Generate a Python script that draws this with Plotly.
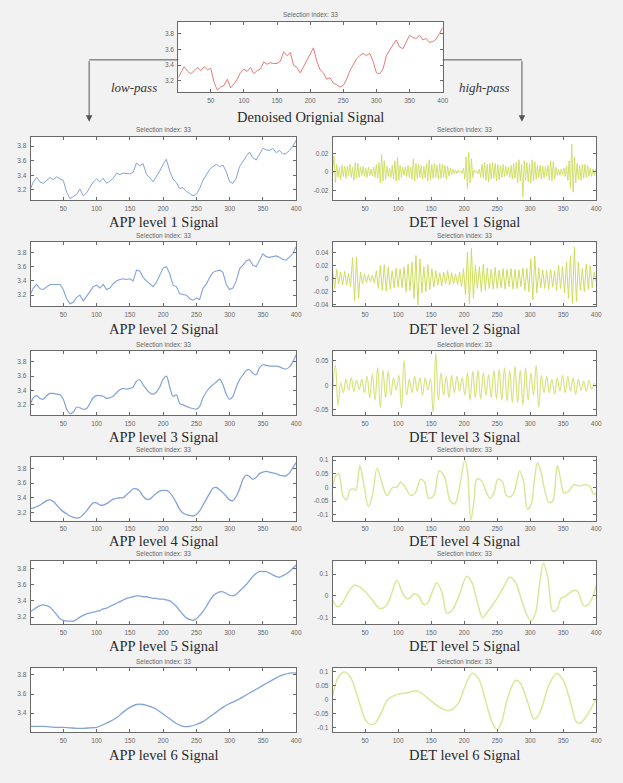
import plotly.graph_objects as go

W, H = 623, 783

# ---------------- data ----------------
X5 = [1] + list(range(5, 401, 5))
X10 = [1] + list(range(10, 401, 10))
X2 = list(range(1, 400, 2))
X3 = list(range(1, 401, 3))
X4 = list(range(1, 400, 4))

ORIG = [3.24, 3.30, 3.38, 3.32, 3.29, 3.33, 3.37, 3.33, 3.38, 3.34,
        3.36, 3.18, 3.08, 3.12, 3.14, 3.22, 3.11, 3.16, 3.22, 3.31,
        3.35, 3.32, 3.37, 3.29, 3.33, 3.35, 3.44, 3.41, 3.43, 3.42,
        3.42, 3.45, 3.57, 3.52, 3.56, 3.40, 3.37, 3.30, 3.38, 3.46,
        3.55, 3.62, 3.45, 3.34, 3.30, 3.22, 3.24, 3.17, 3.15, 3.12,
        3.14, 3.22, 3.33, 3.40, 3.48, 3.52, 3.55, 3.52, 3.55, 3.45,
        3.30, 3.29, 3.35, 3.52, 3.60, 3.66, 3.72, 3.63, 3.61, 3.70,
        3.78, 3.75, 3.74, 3.78, 3.72, 3.74, 3.69, 3.70, 3.73, 3.80,
        3.88]

APP1 = [3.22, 3.31, 3.37, 3.31, 3.29, 3.33, 3.37, 3.34, 3.38, 3.35,
        3.33, 3.17, 3.08, 3.11, 3.14, 3.21, 3.12, 3.16, 3.23, 3.31,
        3.35, 3.31, 3.36, 3.29, 3.32, 3.36, 3.43, 3.41, 3.43, 3.42,
        3.42, 3.44, 3.57, 3.53, 3.56, 3.41, 3.37, 3.31, 3.38, 3.46,
        3.55, 3.62, 3.46, 3.35, 3.30, 3.22, 3.23, 3.18, 3.15, 3.12,
        3.14, 3.22, 3.33, 3.41, 3.48, 3.52, 3.55, 3.52, 3.54, 3.45,
        3.31, 3.29, 3.36, 3.52, 3.60, 3.66, 3.72, 3.64, 3.61, 3.70,
        3.77, 3.75, 3.74, 3.77, 3.71, 3.74, 3.69, 3.70, 3.74, 3.80,
        3.88]

APP2 = [3.22, 3.30, 3.35, 3.29, 3.28, 3.32, 3.35, 3.35, 3.35, 3.35,
        3.28, 3.15, 3.08, 3.10, 3.17, 3.20, 3.12, 3.18, 3.25, 3.32,
        3.34, 3.30, 3.35, 3.28, 3.30, 3.36, 3.40, 3.42, 3.43, 3.42,
        3.43, 3.40, 3.55, 3.54, 3.45, 3.40, 3.36, 3.32, 3.38, 3.47,
        3.58, 3.60, 3.50, 3.34, 3.32, 3.22, 3.21, 3.20, 3.15, 3.13,
        3.16, 3.14, 3.30, 3.35, 3.45, 3.52, 3.54, 3.55, 3.52, 3.35,
        3.28, 3.30, 3.40, 3.57, 3.62, 3.68, 3.70, 3.62, 3.60, 3.70,
        3.78, 3.74, 3.73, 3.74, 3.75, 3.73, 3.70, 3.69, 3.74, 3.78,
        3.88]

APP3 = [3.22, 3.30, 3.33, 3.29, 3.28, 3.33, 3.36, 3.36, 3.35, 3.34,
        3.28, 3.14, 3.08, 3.10, 3.17, 3.16, 3.14, 3.15, 3.22, 3.30,
        3.33, 3.33, 3.32, 3.29, 3.30, 3.32, 3.37, 3.41, 3.43, 3.42,
        3.43, 3.45, 3.53, 3.55, 3.48, 3.42, 3.37, 3.35, 3.38, 3.45,
        3.56, 3.60, 3.45, 3.32, 3.34, 3.22, 3.20, 3.18, 3.16, 3.15,
        3.14, 3.18, 3.30, 3.38, 3.44, 3.48, 3.52, 3.56, 3.48, 3.35,
        3.28, 3.32, 3.45, 3.55, 3.62, 3.68, 3.69, 3.64, 3.62, 3.72,
        3.76, 3.75, 3.74, 3.74, 3.74, 3.73, 3.71, 3.70, 3.73, 3.80,
        3.90]

APP4 = [3.25, 3.26, 3.28, 3.30, 3.33, 3.36, 3.37, 3.35, 3.30, 3.25,
        3.21, 3.18, 3.15, 3.13, 3.12, 3.13, 3.17, 3.22, 3.28, 3.33,
        3.33, 3.30, 3.30, 3.32, 3.35, 3.38, 3.39, 3.40, 3.40, 3.44,
        3.48, 3.52, 3.52, 3.49, 3.42, 3.38, 3.38, 3.42, 3.46, 3.49,
        3.50, 3.50, 3.47, 3.41, 3.33, 3.24, 3.19, 3.17, 3.16, 3.15,
        3.17, 3.22, 3.30, 3.38, 3.46, 3.53, 3.54, 3.51, 3.47, 3.42,
        3.37, 3.36, 3.42, 3.52, 3.65, 3.71, 3.69, 3.65, 3.68, 3.73,
        3.75, 3.76, 3.75, 3.74, 3.73, 3.71, 3.70, 3.70, 3.74, 3.81,
        3.88]

APP5 = [3.27, 3.29, 3.32, 3.34, 3.35, 3.34, 3.32, 3.28, 3.23, 3.18,
        3.16, 3.15, 3.15, 3.15, 3.17, 3.20, 3.22, 3.24, 3.25, 3.26,
        3.27, 3.28, 3.30, 3.31, 3.33, 3.35, 3.37, 3.39, 3.41, 3.43,
        3.44, 3.45, 3.46, 3.46, 3.45, 3.45, 3.44, 3.43, 3.43, 3.42,
        3.42, 3.41, 3.40, 3.37, 3.33, 3.28, 3.23, 3.19, 3.17, 3.16,
        3.18, 3.22, 3.27, 3.33, 3.40, 3.46, 3.49, 3.51, 3.51, 3.49,
        3.47, 3.46, 3.48, 3.52, 3.56, 3.60, 3.65, 3.70, 3.74, 3.76,
        3.76, 3.76, 3.74, 3.72, 3.70, 3.69, 3.71, 3.73, 3.76, 3.80,
        3.84]

APP6 = [3.26, 3.26, 3.26, 3.255, 3.25, 3.25, 3.245, 3.24, 3.24, 3.245,
        3.25, 3.28, 3.31, 3.35, 3.41, 3.46, 3.49, 3.49, 3.47, 3.44,
        3.39, 3.34, 3.29, 3.26, 3.26, 3.28, 3.31, 3.36, 3.41, 3.46,
        3.50, 3.53, 3.57, 3.61, 3.65, 3.69, 3.73, 3.77, 3.80, 3.82,
        3.82]

DET1 = [0.004, 0.017, -0.012, 0.008, -0.006, 0.005, -0.008, 0.007, -0.005, 0.006,
        -0.007, 0.006, -0.004, 0.008, -0.006, 0.005, -0.009, 0.010, -0.007, 0.009,
        -0.006, 0.005, -0.004, 0.006, -0.005, 0.004, -0.006, 0.005, -0.004, 0.003,
        -0.004, 0.005, -0.006, 0.008, -0.007, 0.010, -0.012, 0.019, -0.010, 0.012,
        -0.008, 0.006, -0.005, 0.004, -0.006, 0.007, -0.008, 0.012, -0.010, 0.016,
        -0.009, 0.007, -0.006, 0.005, -0.004, 0.006, -0.005, 0.007, -0.006, 0.005,
        -0.008, 0.014, -0.010, 0.009, -0.007, 0.008, -0.006, 0.007, -0.008, 0.006,
        -0.007, 0.009, -0.010, 0.013, -0.009, 0.008, -0.007, 0.009, -0.006, 0.007,
        -0.008, 0.009, -0.007, 0.008, -0.006, 0.007, -0.008, 0.006, -0.005, 0.004,
        -0.003, 0.003, -0.002, 0.002, -0.002, 0.002, -0.001, 0.001, -0.002, 0.004,
        -0.008, 0.016, -0.018, 0.021, -0.012, 0.014, -0.006, 0.002, -0.001, 0.001,
        -0.002, 0.003, -0.006, 0.008, -0.007, 0.010, -0.009, 0.008, -0.011, 0.009,
        -0.008, 0.010, -0.007, 0.009, -0.010, 0.008, -0.009, 0.007, -0.006, 0.008,
        -0.005, 0.006, -0.004, 0.005, -0.006, 0.007, -0.008, 0.009, -0.007, 0.010,
        -0.012, 0.013, -0.010, 0.008, -0.027, 0.012, -0.009, 0.010, -0.011, 0.009,
        -0.012, 0.013, -0.010, 0.011, -0.008, 0.007, -0.006, 0.007, -0.008, 0.006,
        -0.007, 0.006, -0.005, 0.007, -0.009, 0.012, -0.010, 0.011, -0.008, 0.005,
        -0.004, 0.003, -0.004, 0.003, -0.003, 0.004, -0.005, 0.006, -0.009, 0.012,
        -0.018, 0.030, -0.022, 0.016, -0.012, 0.009, -0.008, 0.007, -0.009, 0.008,
        -0.007, 0.008, -0.006, 0.007, -0.005, 0.004, -0.005, 0.003, -0.004, 0.003]

DET2 = [0.012, -0.015, 0.014, -0.008, 0.010, -0.009, 0.011, -0.010, 0.008, -0.012,
        0.032, -0.034, 0.033, -0.030, 0.010, -0.008, 0.007, -0.006, 0.006, -0.005,
        0.005, -0.007, 0.012, -0.015, 0.020, -0.018, 0.021, -0.019, 0.018, -0.016,
        0.012, -0.014, 0.016, -0.013, 0.015, -0.014, 0.018, -0.020, 0.022, -0.018,
        0.025, -0.030, 0.035, -0.040, 0.030, -0.022, 0.018, -0.020, 0.021, -0.017,
        0.015, -0.013, 0.012, -0.010, 0.009, -0.011, 0.010, -0.008, 0.012, -0.010,
        0.009, -0.008, 0.007, -0.009, 0.010, -0.012, 0.015, -0.025, 0.040, -0.038,
        0.046, -0.030, 0.020, -0.015, 0.018, -0.020, 0.022, -0.018, 0.016, -0.015,
        0.014, -0.016, 0.017, -0.015, 0.013, -0.014, 0.015, -0.016, 0.014, -0.012,
        0.015, -0.016, 0.014, -0.015, 0.013, -0.012, 0.016, -0.018, 0.015, -0.020,
        0.030, -0.032, 0.034, -0.022, 0.016, -0.014, 0.013, -0.015, 0.012, -0.016,
        0.014, -0.013, 0.012, -0.018, 0.020, -0.015, 0.018, -0.022, 0.025, -0.030,
        0.035, -0.038, 0.048, -0.035, 0.025, -0.018, 0.015, -0.020, 0.022, -0.016,
        0.020, -0.014, 0.010, -0.005]

DET3 = [-0.010, 0.040, -0.040, 0.005, -0.015, 0.012, -0.010, 0.015, -0.012, 0.010,
        -0.008, 0.012, -0.015, 0.018, -0.025, 0.022, -0.030, 0.035, -0.045, 0.030,
        -0.025, 0.028, -0.020, 0.015, -0.010, 0.020, -0.045, 0.050, -0.020, 0.012,
        -0.015, 0.018, -0.012, 0.015, -0.020, 0.015, -0.010, 0.012, -0.055, 0.065,
        -0.030, 0.025, -0.020, 0.018, -0.025, 0.020, -0.015, 0.018, -0.012, 0.015,
        -0.020, 0.025, -0.030, 0.028, -0.025, 0.030, -0.028, 0.025, -0.020, 0.022,
        -0.025, 0.030, -0.028, 0.032, -0.030, 0.035, -0.032, 0.030, -0.035, 0.038,
        -0.035, 0.030, -0.040, 0.035, -0.030, 0.025, -0.020, 0.040, -0.045, 0.020,
        -0.015, 0.018, -0.015, 0.012, -0.018, 0.015, -0.012, 0.020, -0.015, 0.018,
        -0.012, 0.015, -0.018, 0.012, -0.010, 0.008, -0.012, 0.010, -0.008, 0.005]

DET4_X = [1, 5, 10, 17, 22, 27, 32, 36, 42, 48, 55, 61, 68, 75, 83, 92, 98, 104, 112, 119,
          126, 134, 140, 146, 154, 162, 170, 179, 186, 193, 201, 205, 210, 215, 219, 226,
          234, 239, 245, 251, 258, 264, 270, 276, 284, 290, 296, 302, 306, 311, 316, 322,
          328, 334, 341, 346, 351, 358, 366, 374, 382, 390, 396, 400]
DET4 = [0.000, 0.040, 0.050, -0.035, -0.045, -0.010, -0.005, -0.010, 0.080, 0.010,
        -0.070, -0.030, 0.070, 0.020, -0.030, 0.000, 0.000, 0.020, -0.005, -0.030,
        -0.020, 0.030, 0.020, -0.040, -0.030, 0.060, 0.040, -0.050, -0.060, 0.000,
        0.100, 0.060, -0.120, -0.050, 0.030, 0.025, -0.020, -0.040, -0.020, 0.030,
        0.020, -0.030, -0.035, -0.015, 0.060, 0.020, -0.080, -0.060, 0.020, 0.090,
        0.060, -0.010, -0.055, -0.050, 0.080, 0.030, -0.020, -0.015, 0.010, 0.005,
        0.010, 0.005, -0.025, -0.020]

DET5_X = [1, 8, 15, 25, 34, 42, 50, 60, 72, 82, 90, 98, 107, 113, 118, 124, 131, 139,
          145, 152, 158, 166, 174, 182, 192, 204, 212, 220, 228, 236, 248, 258, 269, 278,
          287, 294, 301, 308, 314, 320, 327, 334, 340, 347, 352, 358, 366, 372, 381, 388,
          394, 400]
DET5 = [-0.020, -0.050, -0.035, 0.020, 0.050, 0.040, 0.020, -0.015, -0.058, -0.045,
        0.010, 0.070, 0.010, -0.012, -0.010, 0.010, 0.000, -0.040, -0.030, 0.020,
        0.060, 0.020, -0.080, -0.065, 0.000, 0.090, 0.060, -0.030, -0.100, -0.070,
        -0.020, 0.030, 0.085, 0.060, -0.020, -0.080, -0.115, -0.080, 0.050, 0.150,
        0.080, -0.070, -0.065, -0.010, -0.005, 0.010, 0.025, 0.020, -0.045, -0.040,
        -0.010, 0.050]

DET6_X = [1, 8, 18, 28, 40, 50, 58, 65, 75, 84, 100, 115, 128, 140, 150, 165, 175, 182,
          192, 200, 212, 222, 232, 242, 250, 257, 265, 278, 285, 295, 306, 313, 320, 328,
          340, 350, 360, 370, 376, 385, 395, 400]
DET6 = [0.015, 0.075, 0.100, 0.080, 0.000, -0.070, -0.090, -0.085, -0.045, 0.000,
        0.020, 0.025, 0.032, 0.015, -0.005, -0.030, -0.040, -0.035, -0.010, 0.040,
        0.095, 0.075, 0.000, -0.080, -0.108, -0.080, 0.000, 0.070, 0.060, 0.000,
        -0.070, -0.055, -0.010, 0.050, 0.095, 0.070, 0.000, -0.080, -0.085, -0.060,
        -0.020, 0.005]

X_TICKS = [50, 100, 150, 200, 250, 300, 350, 400]
APP_TICKS = [3.2, 3.4, 3.6, 3.8]
APP_TICKTEXT = ["3.2", "3.4", "3.6", "3.8"]
APP6_TICKS = [3.4, 3.6, 3.8]
APP6_TICKTEXT = ["3.4", "3.6", "3.8"]
DET1_TICKS = [-0.02, 0, 0.02]
DET1_TICKTEXT = ["-0.02", "0", "0.02"]
DET2_TICKS = [-0.04, -0.02, 0, 0.02, 0.04]
DET2_TICKTEXT = ["-0.04", "-0.02", "0", "0.02", "0.04"]
DET3_TICKS = [-0.05, 0, 0.05]
DET3_TICKTEXT = ["-0.05", "0", "0.05"]
DET4_TICKS = [-0.1, -0.05, 0, 0.05, 0.1]
DET4_TICKTEXT = ["-0.1", "-0.05", "0", "0.05", "0.1"]
DET5_TICKS = [-0.1, 0, 0.1]
DET5_TICKTEXT = ["-0.1", "0", "0.1"]

PANEL_TITLE = "Selection index: 33"
LABELS = ["Denoised Orignial Signal",
          "APP level 1 Signal", "APP level 2 Signal", "APP level 3 Signal",
          "APP level 4 Signal", "APP level 5 Signal", "APP level 6 Signal",
          "DET level 1 Signal", "DET level 2 Signal", "DET level 3 Signal",
          "DET level 4 Signal", "DET level 5 Signal", "DET level 6 Signal"]

# ---------------- styling / layout ----------------
RED = "#e77b78"
BLUE = "#84a3d9"
GREEN1 = "#cddd5c"
GREEN2 = "#d6e37e"
GREEN3 = "#dce69a"

ROWS = [(137, 201), (243, 307), (352, 416), (458, 522), (562, 626), (670, 734)]
LABEL_GAP = [22, 23, 22, 20, 22, 23]
LEFT = (31, 299)
RIGHT = (336, 602)
TOP_BOX = ((180, 447), (22, 92))

panels = [
    (X5, ORIG, RED, 1.0, 0, [3.06, 3.95], APP_TICKS, APP_TICKTEXT, TOP_BOX, 25),
    (X5, APP1, BLUE, 1.0, 0, [3.055, 3.93], APP_TICKS, APP_TICKTEXT, (LEFT, ROWS[0]), LABEL_GAP[0]),
    (X5, APP2, BLUE, 1.1, 0, [3.045, 3.94], APP_TICKS, APP_TICKTEXT, (LEFT, ROWS[1]), LABEL_GAP[1]),
    (X5, APP3, BLUE, 1.2, 0.9, [3.06, 3.95], APP_TICKS, APP_TICKTEXT, (LEFT, ROWS[2]), LABEL_GAP[2]),
    (X5, APP4, BLUE, 1.3, 0.9, [3.086, 3.96], APP_TICKS, APP_TICKTEXT, (LEFT, ROWS[3]), LABEL_GAP[3]),
    (X5, APP5, BLUE, 1.3, 0.9, [3.11, 3.895], APP_TICKS, APP_TICKTEXT, (LEFT, ROWS[4]), LABEL_GAP[4]),
    (X10, APP6, BLUE, 1.3, 0.9, [3.20, 3.87], APP6_TICKS, APP6_TICKTEXT, (LEFT, ROWS[5]), LABEL_GAP[5]),
    (X2, DET1, GREEN1, 0.9, 0, [-0.031, 0.038], DET1_TICKS, DET1_TICKTEXT, (RIGHT, ROWS[0]), LABEL_GAP[0]),
    (X3, DET2, GREEN1, 1.0, 0, [-0.042, 0.055], DET2_TICKS, DET2_TICKTEXT, (RIGHT, ROWS[1]), LABEL_GAP[1]),
    (X4, DET3, GREEN2, 1.2, 1.25, [-0.060, 0.069], DET3_TICKS, DET3_TICKTEXT, (RIGHT, ROWS[2]), LABEL_GAP[2]),
    (DET4_X, DET4, GREEN3, 1.5, 0.9, [-0.122, 0.112], DET4_TICKS, DET4_TICKTEXT, (RIGHT, ROWS[3]), LABEL_GAP[3]),
    (DET5_X, DET5, GREEN3, 1.5, 0.9, [-0.131, 0.162], DET5_TICKS, DET5_TICKTEXT, (RIGHT, ROWS[4]), LABEL_GAP[4]),
    (DET6_X, DET6, GREEN3, 1.5, 0.9, [-0.117, 0.113], DET4_TICKS, DET4_TICKTEXT, (RIGHT, ROWS[5]), LABEL_GAP[5]),
]


def fx(p):
    return p / W


def fy(p):
    return 1 - p / H


BG = "#f2f2f2"
fig = go.Figure()
layout = dict(
    width=W, height=H, autosize=False,
    margin=dict(l=0, r=0, t=0, b=0),
    paper_bgcolor=BG, plot_bgcolor="#ffffff",
    showlegend=False,
    font=dict(family="Liberation Sans, Arial, sans-serif", color="#555555"),
)
annotations = []
shapes = []

SANS = "Liberation Sans, Arial, sans-serif"
SERIF = "Liberation Serif, Times New Roman, serif"
AX_COMMON = dict(showline=True, linecolor="#6a6a6a", linewidth=1, mirror="ticks",
                 ticks="inside", ticklen=3, tickcolor="#6a6a6a", showgrid=False,
                 zeroline=False, tickfont=dict(size=6.5, color="#666666", family=SANS))

for i, (xs, ys, col, lw, smooth, yr, yt, ytt, box, gap) in enumerate(panels):
    n = i + 1
    (x0, x1), (y0, y1) = box
    sfx = "" if n == 1 else str(n)
    line = dict(color=col, width=lw)
    if smooth:
        line["shape"] = "spline"
        line["smoothing"] = smooth
    fig.add_trace(go.Scatter(x=xs, y=ys, mode="lines", line=line,
                             xaxis="x" + sfx, yaxis="y" + sfx, hoverinfo="skip"))
    layout["xaxis" + sfx] = dict(AX_COMMON, domain=[fx(x0), fx(x1)], range=[1, 400],
                                 tickvals=X_TICKS, ticktext=[str(v) for v in X_TICKS],
                                 anchor="y" + sfx, ticklabelstandoff=2)
    layout["yaxis" + sfx] = dict(AX_COMMON, domain=[fy(y1), fy(y0)], range=yr,
                                 tickvals=yt, ticktext=ytt, anchor="x" + sfx,
                                 ticklabelstandoff=2)
    cx = (x0 + x1) / 2
    annotations.append(dict(text=PANEL_TITLE, x=fx(cx), y=fy(y0 - 7), xref="paper", yref="paper",
                            showarrow=False, xanchor="center", yanchor="middle",
                            font=dict(size=6.5, color="#666666", family=SANS)))
    annotations.append(dict(text=LABELS[i], x=fx(cx), y=fy(y1 + gap), xref="paper", yref="paper",
                            showarrow=False, xanchor="center", yanchor="middle",
                            font=dict(size=14.5, color="#2a2a2a", family=SERIF)))

# arrows (low-pass / high-pass)
ARROW_COL = "#555555"
shapes.append(dict(type="line", xref="paper", yref="paper",
                   x0=fx(180), x1=fx(90), y0=fy(60), y1=fy(60),
                   line=dict(color=ARROW_COL, width=1)))
shapes.append(dict(type="line", xref="paper", yref="paper",
                   x0=fx(447), x1=fx(527), y0=fy(60), y1=fy(60),
                   line=dict(color=ARROW_COL, width=1)))
for ax_px in (90, 527):
    annotations.append(dict(x=fx(ax_px), y=fy(122), xref="paper", yref="paper",
                            ax=0, ay=-62, axref="pixel", ayref="pixel",
                            showarrow=True, arrowhead=2, arrowsize=1.3, arrowwidth=1,
                            arrowcolor=ARROW_COL, text=""))
annotations.append(dict(text="<i>low-pass</i>", x=fx(135), y=fy(88), xref="paper", yref="paper",
                        xanchor="center", yanchor="middle", showarrow=False,
                        font=dict(size=13, color="#333333", family=SERIF)))
annotations.append(dict(text="<i>high-pass</i>", x=fx(489), y=fy(88), xref="paper", yref="paper",
                        xanchor="center", yanchor="middle", showarrow=False,
                        font=dict(size=13, color="#333333", family=SERIF)))

layout["annotations"] = annotations
layout["shapes"] = shapes
fig.update_layout(**layout)
fig.write_html(
    "out.html",
    config={"displayModeBar": False},
    post_script="document.body.style.margin='0';document.body.style.background='" + BG + "';",
)
